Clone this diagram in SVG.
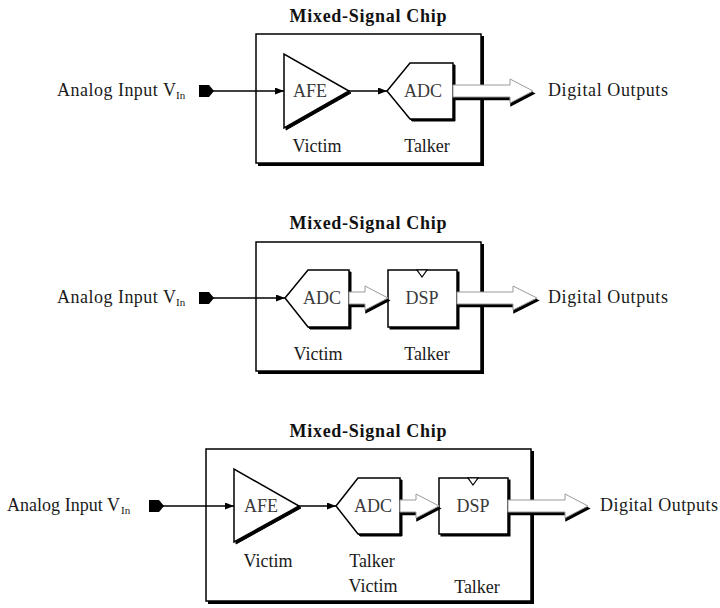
<svg xmlns="http://www.w3.org/2000/svg" width="720" height="608" viewBox="0 0 720 608">
<style>
.bg{fill:#fff}
.sh{fill:#000;stroke:#000;stroke-width:1}
.blk{fill:#fff;stroke:#000;stroke-width:1.5;stroke-linejoin:miter}
.clk{fill:#fff;stroke:#000;stroke-width:1.2}
.port{fill:#000}
.wire{fill:none;stroke:#000;stroke-width:1.6}
.bus{fill:#fff;stroke:#9a9a9a;stroke-width:1}
.bsh{fill:#000;stroke:#000;stroke-width:1.5}
text{font-family:"Liberation Serif","Times New Roman",serif;font-size:18px;fill:#1a1a1a}
.title{font-weight:bold;fill:#111}
.in{fill:#3a3a3a;text-anchor:middle}
.note{text-anchor:middle}
.sub{font-size:11px}
</style>
<defs>
<marker id="ah" markerUnits="userSpaceOnUse" markerWidth="9" markerHeight="7" refX="9" refY="3.5" orient="auto">
<path d="M0,0 L9,3.5 L0,7 z" fill="#000"/>
</marker>
</defs>
<rect class="bg" x="0" y="0" width="720" height="608"/>

<!-- ================= Panel 1 ================= -->
<g id="chip1">
<text class="title" x="368" y="22" text-anchor="middle" textLength="157" lengthAdjust="spacing">Mixed-Signal Chip</text>
<rect class="sh" x="258.5" y="36.5" width="225" height="129"/>
<rect class="blk" x="256" y="34" width="225" height="129"/>
</g>
<g id="in1">
<text x="57" y="96" textLength="119" lengthAdjust="spacing">Analog Input V</text><text class="sub" x="176" y="99">In</text>
<polygon class="port" points="199,85 209,85 214,91 209,97 199,97"/>
</g>
<g id="afe1">
<polygon class="sh" points="286,56 286,130 351,93"/>
<polygon class="blk" points="284,54 284,128 349,91"/>
<text class="in" x="310" y="97">AFE</text>
</g>
<g id="adc1">
<polygon class="sh" points="389,93 412,65 455,65 455,121 412,121"/>
<polygon class="blk" points="387,91 410,63 453,63 453,119 410,119"/>
<text class="in" x="423" y="97">ADC</text>
</g>
<g id="out1"><text x="548" y="96" textLength="120" lengthAdjust="spacing">Digital Outputs</text></g>
<g id="labels1">
<text class="note" x="317" y="152">Victim</text>
<text class="note" x="427" y="152">Talker</text>
</g>

<!-- ================= Panel 2 ================= -->
<g id="chip2">
<text class="title" x="368" y="229" text-anchor="middle" textLength="157" lengthAdjust="spacing">Mixed-Signal Chip</text>
<rect class="sh" x="258.5" y="244.5" width="225" height="129"/>
<rect class="blk" x="256" y="242" width="225" height="129"/>
</g>
<g id="in2">
<text x="57" y="303" textLength="119" lengthAdjust="spacing">Analog Input V</text><text class="sub" x="176" y="306">In</text>
<polygon class="port" points="199,292 209,292 214,298 209,304 199,304"/>
</g>
<g id="adc2">
<polygon class="sh" points="287,300 310,272 351,272 351,329 310,329"/>
<polygon class="blk" points="285,298 308,270 349,270 349,327 308,327"/>
<text class="in" x="322" y="304">ADC</text>
</g>
<g id="dsp2">
<rect class="sh" x="390" y="272" width="69" height="57"/>
<rect class="blk" x="388" y="270" width="69" height="57"/>
<polygon class="clk" points="417,270 427,270 422,277"/>
<text class="in" x="422" y="304">DSP</text>
</g>
<g id="out2"><text x="548" y="303" textLength="120" lengthAdjust="spacing">Digital Outputs</text></g>
<g id="labels2">
<text class="note" x="318" y="360">Victim</text>
<text class="note" x="427" y="360">Talker</text>
</g>

<!-- ================= Panel 3 ================= -->
<g id="chip3">
<text class="title" x="368" y="437" text-anchor="middle" textLength="157" lengthAdjust="spacing">Mixed-Signal Chip</text>
<rect class="sh" x="208.5" y="451.5" width="325" height="152"/>
<rect class="blk" x="206" y="449" width="325" height="152"/>
</g>
<g id="in3">
<text x="7" y="511" textLength="113" lengthAdjust="spacing">Analog Input V</text><text class="sub" x="121" y="514">In</text>
<polygon class="port" points="149,500 159,500 164,506 159,512 149,512"/>
</g>
<g id="afe3">
<polygon class="sh" points="236,471 236,544 301,508"/>
<polygon class="blk" points="234,469 234,542 299,506"/>
<text class="in" x="261" y="512">AFE</text>
</g>
<g id="adc3">
<polygon class="sh" points="338,508 360,480 402,480 402,536 360,536"/>
<polygon class="blk" points="336,506 358,478 400,478 400,534 358,534"/>
<text class="in" x="373" y="512">ADC</text>
</g>
<g id="dsp3">
<rect class="sh" x="441" y="480" width="69" height="56"/>
<rect class="blk" x="439" y="478" width="69" height="56"/>
<polygon class="clk" points="468,478 478,478 473,485"/>
<text class="in" x="473" y="512">DSP</text>
</g>
<g id="out3"><text x="600" y="511" textLength="118" lengthAdjust="spacing">Digital Outputs</text></g>
<g id="labels3">
<text class="note" x="268" y="567">Victim</text>
<text class="note" x="372" y="567">Talker</text>
<text class="note" x="373" y="592">Victim</text>
<text class="note" x="477" y="593">Talker</text>
</g>

<!-- ================= Connectors ================= -->
<g id="connectors">
<line class="wire" x1="213" y1="91" x2="284" y2="91" marker-end="url(#ah)"/>
<line class="wire" x1="349" y1="91" x2="387" y2="91" marker-end="url(#ah)"/>
<polygon class="bsh" transform="translate(1,2.5)" points="453,85 510,85 510,79 533,91 510,103 510,97 453,97"/>
<polygon class="bus" points="453,85 510,85 510,79 533,91 510,103 510,97 453,97"/>

<line class="wire" x1="213" y1="298" x2="285" y2="298" marker-end="url(#ah)"/>
<polygon class="bsh" transform="translate(1,2.5)" points="349,292 365,292 365,286 388,298 365,310 365,304 349,304"/>
<polygon class="bus" points="349,292 365,292 365,286 388,298 365,310 365,304 349,304"/>
<polygon class="bsh" transform="translate(1,2.5)" points="457,292 513,292 513,286 537,298 513,310 513,304 457,304"/>
<polygon class="bus" points="457,292 513,292 513,286 537,298 513,310 513,304 457,304"/>

<line class="wire" x1="163" y1="506" x2="234" y2="506" marker-end="url(#ah)"/>
<line class="wire" x1="299" y1="506" x2="336" y2="506" marker-end="url(#ah)"/>
<polygon class="bsh" transform="translate(1,2.5)" points="400,500 416,500 416,494 439,506 416,518 416,512 400,512"/>
<polygon class="bus" points="400,500 416,500 416,494 439,506 416,518 416,512 400,512"/>
<polygon class="bsh" transform="translate(1,2.5)" points="508,500 565,500 565,494 588,506 565,518 565,512 508,512"/>
<polygon class="bus" points="508,500 565,500 565,494 588,506 565,518 565,512 508,512"/>
</g>
</svg>
